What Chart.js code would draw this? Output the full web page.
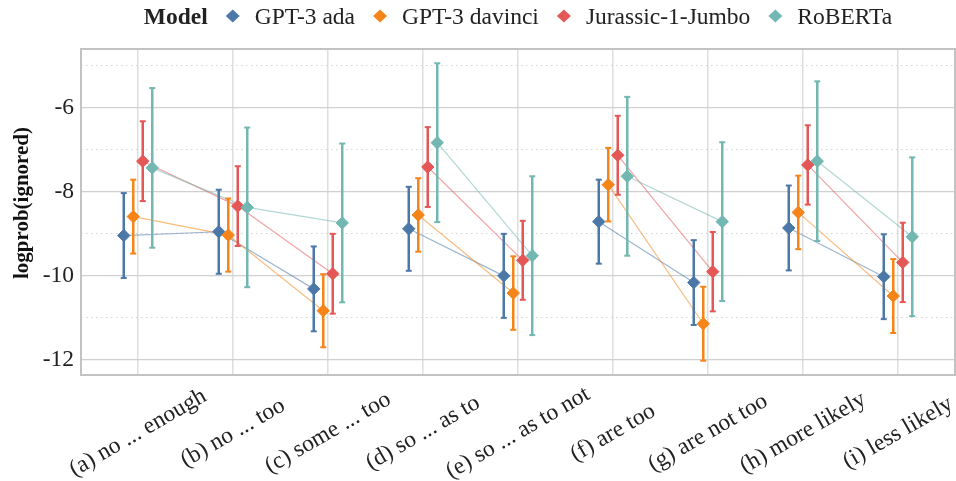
<!DOCTYPE html>
<html>
<head>
<meta charset="utf-8">
<script src="https://cdn.jsdelivr.net/npm/chart.js@4.4.1/dist/chart.umd.min.js"></script>
<style>
    html, body { margin: 0; padding: 0; background: #fff; }
    canvas { display: block; }
</style>
</head>
<body>
<canvas id="chartLogprob" width="956" height="481"></canvas>
<script>
const categories = ['(a) no ... enough', '(b) no ... too', '(c) some ... too', '(d) so ... as to', '(e) so ... as to not',
    '(f) are too', '(g) are not too', '(h) more likely', '(i) less likely'];
const models = ['GPT-3 ada', 'GPT-3 davinci', 'Jurassic-1-Jumbo', 'RoBERTa'];
const colors = ['#4c78a8', '#f58518', '#e45756', '#72b7b2'];
// categories joined by the thin lines
const groups = [[0, 1, 2], [3, 4], [5, 6], [7, 8]];

const adaMean = [-9.04, -8.95, -10.31, -8.88, -10.00, -8.71, -10.16, -8.86, -10.02];
const adaErr = [1.01, 1.00, 1.01, 1.00, 1.00, 1.00, 1.01, 1.01, 1.01];
const davinciMean = [-8.59, -9.03, -10.83, -8.55, -10.41, -7.83, -11.14, -8.49, -10.48];
const davinciErr = [0.88, 0.87, 0.87, 0.875, 0.875, 0.875, 0.88, 0.875, 0.88];
const jurassicMean = [-7.27, -8.34, -9.95, -7.41, -9.63, -7.13, -9.90, -7.36, -9.68];
const jurassicErr = [0.95, 0.95, 0.95, 0.95, 0.94, 0.94, 0.945, 0.945, 0.945];
const robertaMean = [-7.43, -8.37, -8.74, -6.83, -9.52, -7.63, -8.71, -7.27, -9.07];
const robertaErr = [1.90, 1.90, 1.89, 1.89, 1.89, 1.89, 1.89, 1.90, 1.89];

const yTicks = [-12, -10, -8, -6];

const means = [adaMean, davinciMean, jurassicMean, robertaMean];
const errs = [adaErr, davinciErr, jurassicErr, robertaErr];
const dodge = [-0.15, -0.05, 0.05, 0.15];
const FONT = "'Liberation Serif', 'Times New Roman', serif";

const withAlpha = (hex, a) => {
    const r = parseInt(hex.slice(1, 3), 16)
    const g = parseInt(hex.slice(3, 5), 16)
    const b = parseInt(hex.slice(5, 7), 16)
    return `rgba(${r},${g},${b},${a})`
}

const datasets = [];
models.forEach((model, m) => {
    const off = dodge[m];
    const lineData = [];
    groups.forEach(g => {
        g.forEach(i => lineData.push({ x: i + off, y: means[m][i] }));
        lineData.push({ x: g[g.length - 1] + off, y: null });
    });
    const errData = [];
    categories.forEach((c, i) => {
        errData.push({ x: i + off, y: means[m][i] - errs[m][i] });
        errData.push({ x: i + off, y: means[m][i] + errs[m][i] });
        errData.push({ x: i + off, y: null });
    });
    datasets.push({
        label: model + ' line',
        type: 'line',
        data: lineData,
        showLine: true,
        spanGaps: false,
        borderColor: withAlpha(colors[m], 0.55),
        borderWidth: 1.2,
        pointRadius: 0,
        order: 30 - m
    });
    datasets.push({
        label: model + ' err',
        type: 'line',
        data: errData,
        showLine: true,
        spanGaps: false,
        borderColor: colors[m],
        borderWidth: 2.5,
        pointStyle: 'line',
        pointRadius: 3,
        pointBorderWidth: 2,
        pointBorderColor: colors[m],
        order: 20 - m
    });
    datasets.push({
        label: model,
        type: 'scatter',
        data: means[m].map((v, i) => ({ x: i + off, y: v })),
        pointStyle: 'rectRot',
        pointRadius: 6.2,
        pointBackgroundColor: colors[m],
        pointBorderColor: colors[m],
        pointBorderWidth: 1,
        order: 10 - m
    });
});

const framePlugin = {
    id: 'frame',
    beforeDatasetsDraw(chart) {
        const { ctx, chartArea: a } = chart;
        ctx.save();
        ctx.strokeStyle = '#c3c3c3';
        ctx.lineWidth = 2;
        ctx.strokeRect(a.left, a.top, a.right - a.left, a.bottom - a.top);
        ctx.restore();
    }
};

// category labels, rotated -30 deg and centred on the tick
const xLabelPlugin = {
    id: 'xLabels',
    afterDraw(chart) {
        const { ctx } = chart;
        const xs = chart.scales.x;
        ctx.save();
        ctx.font = `23.5px ${FONT}`;
        ctx.fillStyle = '#222';
        ctx.textAlign = 'center';
        ctx.textBaseline = 'middle';
        categories.forEach((c, i) => {
            ctx.save();
            ctx.translate(xs.getPixelForValue(i), 433);
            ctx.rotate(-Math.PI / 6);
            ctx.fillText(c, 0, 0);
            ctx.restore();
        });
        ctx.save();
        ctx.font = `bold 21px ${FONT}`;
        ctx.fillStyle = '#111';
        ctx.translate(23, 203);
        ctx.rotate(-Math.PI / 2);
        ctx.fillText('logprob(ignored)', 0, 0);
        ctx.restore();
        ctx.restore();
    }
};

const legendPlugin = {
    id: 'modelLegend',
    afterDraw(chart) {
        const { ctx, chartArea: a } = chart;
        const y = 18;
        const gapIn = 25, gapOut = 22;
        ctx.save();
        ctx.textBaseline = 'middle';
        ctx.textAlign = 'left';
        ctx.font = `bold 23.5px ${FONT}`;
        const titleW = ctx.measureText('Model').width;
        ctx.font = `23.5px ${FONT}`;
        let total = titleW;
        models.forEach(m => { total += gapIn + gapOut + ctx.measureText(m).width; });
        let x = (a.left + a.right) / 2 - total / 2;
        ctx.fillStyle = '#222';
        ctx.font = `bold 23.5px ${FONT}`;
        ctx.fillText('Model', x, y);
        x += titleW;
        ctx.font = `23.5px ${FONT}`;
        models.forEach((m, i) => {
            const cx = x + gapIn;
            const cy = y - 2;
            ctx.fillStyle = colors[i];
            ctx.beginPath();
            ctx.moveTo(cx, cy - 6.5);
            ctx.lineTo(cx + 7, cy);
            ctx.lineTo(cx, cy + 6.5);
            ctx.lineTo(cx - 7, cy);
            ctx.closePath();
            ctx.fill();
            ctx.fillStyle = '#222';
            ctx.fillText(m, cx + gapOut, y);
            x = cx + gapOut + ctx.measureText(m).width;
        });
        ctx.restore();
    }
};

const canvas = document.getElementById('chartLogprob');
const context = canvas.getContext('2d');

const chartLogprob = new Chart(context, {
    type: 'scatter',
    data: { datasets },
    options: {
        responsive: false,
        animation: false,
        devicePixelRatio: 1,
        layout: { autoPadding: false, padding: { top: 49, right: 1, left: 0, bottom: 0 } },
        plugins: {
            legend: { display: false },
            tooltip: { enabled: false }
        },
        scales: {
            x: {
                type: 'linear',
                min: -0.6,
                max: 8.6,
                afterFit: scale => { scale.height = 106; },
                ticks: { display: false, stepSize: 1, includeBounds: false },
                grid: { color: '#dedede', lineWidth: 1.5, drawTicks: false },
                border: { display: false }
            },
            y: {
                min: -12.36,
                max: -4.6,
                afterFit: scale => { scale.width = 81; },
                ticks: {
                    stepSize: 1,
                    includeBounds: false,
                    padding: 7,
                    color: '#222',
                    font: { family: FONT, size: 23.5 },
                    callback: v => yTicks.includes(Math.round(v)) ? String(Math.round(v)) : ''
                },
                grid: {
                    drawTicks: false,
                    color: c => (c.tick && Math.round(c.tick.value) % 2 !== 0) ? '#d4d4d4' : '#d0d0d0',
                    lineWidth: c => (c.tick && Math.round(c.tick.value) % 2 !== 0) ? 1 : 1.3
                },
                border: {
                    display: false,
                    dash: c => (c.tick && Math.round(c.tick.value) % 2 !== 0) ? [1.5, 3.5] : []
                }
            }
        }
    },
    plugins: [framePlugin, xLabelPlugin, legendPlugin]
});
</script>
</body>
</html>
